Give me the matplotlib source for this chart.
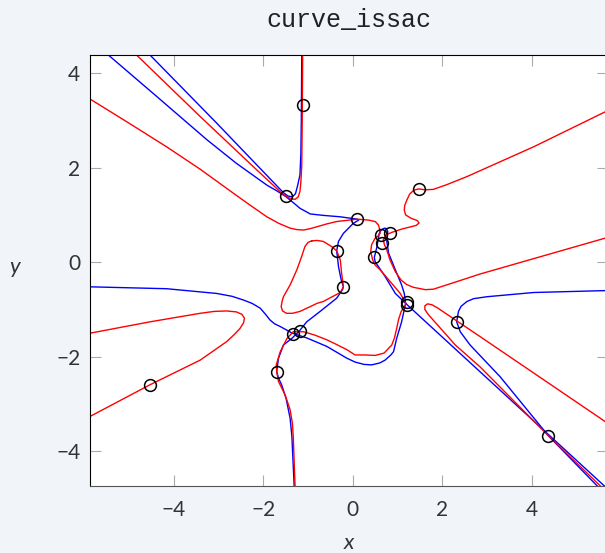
import matplotlib
matplotlib.use('Agg')
import matplotlib.pyplot as plt

# red branches, (x, y) points
red_hook = [(-4.83, 4.38), (-3.41, 3.08), (-2.2, 2.0), (-1.6, 1.47), (-1.48, 1.39), (-1.38, 1.34),
            (-1.29, 1.33), (-1.22, 1.38), (-1.18, 1.50), (-1.16, 1.70), (-1.14, 2.05), (-1.13, 3.0),
            (-1.12, 4.38)]
red_long = [(-5.87, 3.45), (-5.0, 2.94), (-4.16, 2.44), (-3.4, 1.96), (-2.67, 1.46), (-2.3, 1.21),
            (-1.92, 0.96), (-1.65, 0.82), (-1.40, 0.72), (-1.25, 0.69), (-1.10, 0.68), (-0.95, 0.71),
            (-0.80, 0.75), (-0.58, 0.81), (-0.36, 0.86), (0.10, 0.91), (0.35, 0.89), (0.50, 0.86),
            (0.57, 0.79), (0.60, 0.70), (0.61, 0.61), (0.56, 0.55), (0.50, 0.51), (0.42, 0.37),
            (0.40, 0.23), (0.44, 0.06), (0.50, -0.06), (0.61, -0.16), (0.80, -0.37), (1.06, -0.66),
            (1.19, -0.88), (1.08, -1.04), (1.02, -1.22), (0.98, -1.40), (0.93, -1.60), (0.87, -1.75),
            (0.70, -1.92), (0.50, -1.97), (0.27, -1.96), (0.05, -1.96), (-0.13, -1.85), (-0.36, -1.74),
            (-0.58, -1.64), (-0.85, -1.54), (-1.10, -1.47), (-1.33, -1.47), (-1.47, -1.61),
            (-1.62, -1.89), (-1.71, -2.17), (-1.70, -2.31), (-1.66, -2.52), (-1.51, -2.81),
            (-1.40, -3.12), (-1.35, -3.4), (-1.33, -3.69), (-1.29, -4.73)]
red_loop = [(-0.92, 0.45), (-0.80, 0.46), (-0.66, 0.44), (-0.47, 0.33), (-0.36, 0.24), (-0.28, 0.05),
            (-0.25, -0.23), (-0.21, -0.52), (-0.28, -0.64), (-0.48, -0.74), (-0.66, -0.83),
            (-0.80, -0.87), (-1.0, -0.96), (-1.18, -1.04), (-1.35, -1.08), (-1.48, -1.08),
            (-1.57, -1.03), (-1.60, -0.94), (-1.58, -0.83), (-1.55, -0.73), (-1.40, -0.48),
            (-1.25, -0.16), (-1.15, 0.10), (-1.07, 0.33), (-1.0, 0.42), (-0.92, 0.45)]
red_left_tip = [(-5.87, -1.50), (-5.2, -1.38), (-4.53, -1.26), (-3.41, -1.08), (-3.1, -1.04),
                (-2.82, -1.03), (-2.60, -1.05), (-2.48, -1.10), (-2.42, -1.18), (-2.44, -1.28),
                (-2.52, -1.40), (-2.65, -1.53), (-2.82, -1.68), (-3.41, -2.07), (-4.53, -2.59),
                (-5.87, -3.26)]
red_right = [(5.64, 3.18), (4.04, 2.44), (2.55, 1.81), (2.1, 1.64), (1.80, 1.54), (1.62, 1.53),
             (1.47, 1.55), (1.36, 1.52), (1.27, 1.44), (1.21, 1.32), (1.16, 1.20), (1.15, 1.10),
             (1.18, 1.0), (1.30, 0.93), (1.44, 0.88), (1.48, 0.83), (1.42, 0.78), (1.30, 0.75),
             (1.09, 0.70), (0.87, 0.63), (0.74, 0.58), (0.68, 0.47), (0.71, 0.36), (0.76, 0.26),
             (0.83, 0.05), (0.95, -0.20), (1.08, -0.38), (1.20, -0.47), (1.35, -0.53), (1.62, -0.58),
             (1.80, -0.57), (2.29, -0.42), (2.84, -0.25), (5.64, 0.51)]
red_right_tip = [(5.64, -3.37), (2.84, -1.57), (2.29, -1.22), (1.90, -0.97), (1.77, -0.90),
                 (1.67, -0.88), (1.61, -0.92), (1.61, -1.00), (1.69, -1.11), (2.29, -1.75),
                 (2.84, -2.21), (4.37, -3.67), (5.53, -4.73)]

# blue branches
blue_hook = [(-4.53, 4.38), (-3.04, 2.94), (-1.55, 1.47), (-1.45, 1.40), (-1.35, 1.38), (-1.28, 1.45),
             (-1.23, 1.63), (-1.18, 1.85), (-1.16, 2.3), (-1.15, 3.0), (-1.14, 4.38)]
blue_long = [(-5.46, 4.38), (-4.4, 3.52), (-3.26, 2.59), (-2.6, 2.09), (-1.92, 1.63), (-1.70, 1.51),
             (-1.50, 1.39), (-1.33, 1.26), (-1.18, 1.14), (-0.95, 1.02), (-0.66, 0.99), (-0.28, 0.96),
             (0.10, 0.91), (0.13, 0.89), (0.01, 0.82), (-0.21, 0.61), (-0.32, 0.44), (-0.36, 0.24),
             (-0.32, -0.09), (-0.26, -0.37), (-0.21, -0.52), (-0.23, -0.58), (-0.36, -0.76),
             (-0.73, -1.04), (-1.03, -1.26), (-1.19, -1.45), (-1.35, -1.60), (-1.55, -1.75),
             (-1.66, -2.03), (-1.70, -2.31), (-1.66, -2.45), (-1.59, -2.59), (-1.49, -2.88),
             (-1.40, -3.3), (-1.36, -3.69), (-1.31, -4.73)]
blue_mid = [(-5.87, -0.52), (-4.16, -0.56), (-3.04, -0.66), (-2.70, -0.72), (-2.44, -0.80),
            (-2.25, -0.87), (-2.07, -0.97), (-1.95, -1.10), (-1.85, -1.22), (-1.75, -1.30),
            (-1.62, -1.36), (-1.35, -1.50), (-1.03, -1.60), (-0.58, -1.78), (-0.13, -2.03),
            (0.05, -2.11), (0.25, -2.16), (0.42, -2.17), (0.60, -2.13), (0.72, -2.07), (0.85, -1.96),
            (0.91, -1.89), (0.98, -1.61), (1.09, -1.26), (1.18, -0.87), (1.15, -0.66), (1.09, -0.48),
            (0.95, -0.16), (0.80, 0.19), (0.76, 0.44), (0.78, 0.65), (0.75, 0.71), (0.71, 0.72),
            (0.64, 0.69), (0.59, 0.61), (0.54, 0.33), (0.48, 0.10), (0.50, 0.01), (0.72, -0.30),
            (0.95, -0.66), (1.18, -0.87), (5.62, -4.73)]
blue_right = [(5.64, -0.60), (4.04, -0.64), (2.99, -0.73), (2.70, -0.77), (2.55, -0.83), (2.42, -0.93),
              (2.36, -1.04), (2.32, -1.26), (2.40, -1.47), (2.62, -1.75), (3.29, -2.42), (4.37, -3.67),
              (5.46, -4.73)]

# marked points
pts_x = [-1.12, -1.50, 0.10, 1.47, 0.64, 0.84, 0.65, 0.47, -0.36, -0.21, 1.20, 1.20,
         -1.34, -1.19, -1.70, -4.53, 2.32, 4.37]
pts_y = [3.33, 1.39, 0.91, 1.55, 0.57, 0.62, 0.41, 0.11, 0.24, -0.52, -0.85, -0.90,
         -1.52, -1.45, -2.31, -2.59, -1.26, -3.67]

W, H = 605, 553
fig = plt.figure(figsize=(W / 100, H / 100), dpi=100, facecolor='#f1f4f9')
# the plot area runs a little past the right edge of the picture
ax = fig.add_axes([90 / W, (H - 486) / H, (608 - 90) / W, (486 - 55) / H])
ax.set_facecolor('white')

for c in [blue_hook, blue_long, blue_mid, blue_right]:
    ax.plot([p[0] for p in c], [p[1] for p in c], color='#0000ff', lw=1.0)
for c in [red_hook, red_long, red_loop, red_left_tip, red_right, red_right_tip]:
    ax.plot([p[0] for p in c], [p[1] for p in c], color='#ff0000', lw=1.0)
ax.plot(pts_x, pts_y, 'o', mfc='none', mec='black', ms=8.5, mew=1.1)

ax.set_xlim(-5.87, 5.70)
ax.set_ylim(-4.73, 4.38)
ax.set_xticks([-4, -2, 0, 2, 4])
ax.set_yticks([-4, -2, 0, 2, 4])
ax.set_xticklabels(['\u22124', '\u22122', '0', '2', '4'])
ax.set_yticklabels(['\u22124', '\u22122', '0', '2', '4'])
ax.tick_params(direction='in', length=8, width=0.8, color='#aaaaaa', top=True, right=True,
               labelsize=15, labelcolor='#333333')
ax.tick_params(axis='x', pad=10)
ax.tick_params(axis='y', pad=7)
for lab in ax.get_xticklabels() + ax.get_yticklabels():
    lab.set_family('Lato')

for s in ['left', 'top', 'right']:
    ax.spines[s].set_color('black')
ax.spines['bottom'].set_color('#555555')
for s in ax.spines.values():
    s.set_linewidth(0.8)

ax.set_title('curve_issac', family='Liberation Mono', fontsize=18, color='#222222', pad=20)
fig.text(349 / W, 1 - 543 / H, 'x', fontsize=16, style='italic', family='Lato',
         color='#333333', ha='center', va='center')
fig.text(15 / W, 1 - 267 / H, 'y', fontsize=16, style='italic', family='Lato',
         color='#333333', ha='center', va='center')

fig.savefig('out.png', dpi=100, facecolor=fig.get_facecolor())
